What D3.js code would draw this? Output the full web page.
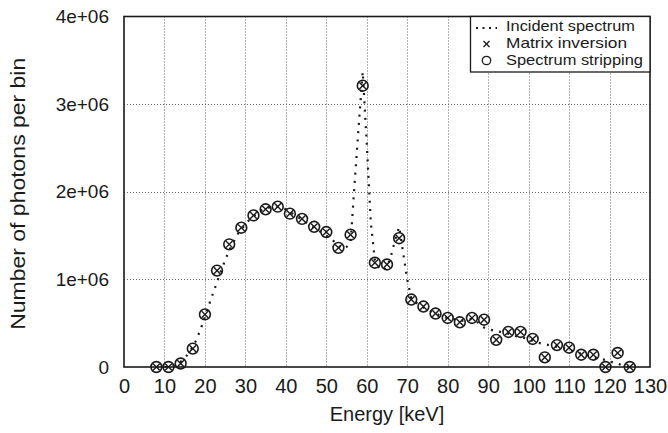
<!DOCTYPE html>
<html><head><meta charset="utf-8">
<script src="https://cdn.jsdelivr.net/npm/d3@7"></script>
<style>html,body{margin:0;padding:0;background:#fff;}svg{display:block;}</style>
</head><body>
<svg id="chart" width="668" height="433"></svg>
<script>
// Bin energies (keV) for the two unfolding methods
const binEnergy = [8,11,14,17,20,23,26,29,32,35,38,41,44,47,50,53,56,59,62,65,68,71,74,77,80,83,86,89,92,95,98,101,104,107,110,113,116,119,122,125];
const matrixInversion = [0.0,0.0,0.04e6,0.21e6,0.60e6,1.10e6,1.40e6,1.59e6,1.73e6,1.80e6,1.83e6,1.75e6,1.69e6,1.60e6,1.54e6,1.36e6,1.51e6,3.21e6,1.19e6,1.17e6,1.47e6,0.77e6,0.69e6,0.61e6,0.56e6,0.51e6,0.56e6,0.54e6,0.31e6,0.40e6,0.40e6,0.32e6,0.11e6,0.25e6,0.22e6,0.14e6,0.14e6,0.0,0.16e6,0.0];
const spectrumStripping = [0.0,0.0,0.04e6,0.21e6,0.60e6,1.10e6,1.40e6,1.59e6,1.73e6,1.80e6,1.83e6,1.75e6,1.69e6,1.60e6,1.54e6,1.36e6,1.51e6,3.21e6,1.19e6,1.17e6,1.47e6,0.77e6,0.69e6,0.61e6,0.56e6,0.51e6,0.56e6,0.54e6,0.31e6,0.40e6,0.40e6,0.32e6,0.11e6,0.25e6,0.22e6,0.14e6,0.14e6,0.0,0.16e6,0.0];

// Incident spectrum, 1 keV steps from 8 to 125 keV (values in millions)
const incidentEnergy = d3.range(8, 126);
const incidentMillions = [
  0,0,0,0,0.01,0.03,0.06,0.10,0.16,0.23,0.32,0.44,            // 8-19
  0.57,0.71,0.84,0.97,1.10,1.22,1.33,1.42,1.51,1.57,            // 20-29
  1.63,1.68,1.72,1.76,1.79,1.81,1.82,1.83,1.83,1.82,            // 30-39
  1.80,1.77,1.74,1.71,1.68,1.65,1.62,1.59,1.56,1.53,            // 40-49
  1.50,1.47,1.43,1.38,1.35,1.37,1.42,2.10,2.75,3.37,            // 50-59
  2.55,1.65,1.22,1.14,1.10,1.14,1.27,1.45,1.60,1.30,            // 60-69
  1.00,0.78,0.74,0.71,0.68,0.65,0.63,0.61,0.59,0.57,            // 70-79
  0.56,0.55,0.54,0.53,0.53,0.54,0.55,0.53,0.48,0.45,            // 80-89
  0.43,0.42,0.41,0.40,0.39,0.38,0.37,0.35,0.34,0.33,            // 90-99
  0.31,0.30,0.28,0.27,0.26,0.25,0.24,0.23,0.22,0.21,            // 100-109
  0.20,0.18,0.17,0.15,0.14,0.13,0.11,0.10,0.09,0.08,            // 110-119
  0.065,0.05,0.04,0.02,0.01,0                                   // 120-125
];

const xTicks = d3.range(0, 131, 10);
const yTicks = [0, 1e6, 2e6, 3e6, 4e6];
const yTickLabels = ["0", "1e+06", "2e+06", "3e+06", "4e+06"];
const legendLabels = ["Incident spectrum", "Matrix inversion", "Spectrum stripping"];

const svg = d3.select("#chart");
const L = 124, R = 650, T = 16.5, B = 367;
const x = d3.scaleLinear().domain([0, 130]).range([L, R]);
const y = d3.scaleLinear().domain([0, 4e6]).range([B, T]);
const font = "'Liberation Sans', Arial, Helvetica, sans-serif";
const ink = "#1a1a1a";

// grid
const grid = svg.append("g").attr("stroke", "#666").attr("stroke-width", 1).attr("stroke-dasharray", "1,2");
grid.selectAll("line.vx").data(xTicks.slice(1, -1)).join("line")
  .attr("x1", d => Math.round(x(d)) + 0.5).attr("x2", d => Math.round(x(d)) + 0.5)
  .attr("y1", T).attr("y2", B);
grid.selectAll("line.hy").data(yTicks.slice(1, -1)).join("line")
  .attr("x1", L).attr("x2", R)
  .attr("y1", d => Math.round(y(d)) + 0.5).attr("y2", d => Math.round(y(d)) + 0.5);

// axes (labels only)
const xAxis = d3.axisBottom(x).tickValues(xTicks).tickSize(0).tickPadding(12);
const gx = svg.append("g").attr("transform", `translate(0,${B})`).call(xAxis);
gx.select(".domain").remove();
gx.selectAll("text").attr("font-family", font).attr("font-size", 20).attr("fill", ink);

const yAxis = d3.axisLeft(y).tickValues(yTicks).tickFormat((d, i) => yTickLabels[i]).tickSize(0).tickPadding(15);
const gy = svg.append("g").attr("transform", `translate(${L},0)`).call(yAxis);
gy.select(".domain").remove();
gy.selectAll("text").attr("font-family", font).attr("font-size", 19).attr("fill", ink);

// axis titles
svg.append("text").attr("x", (L + R) / 2).attr("y", 421).attr("text-anchor", "middle")
  .attr("font-family", font).attr("font-size", 20).attr("fill", ink).text("Energy [keV]");
svg.append("text").attr("transform", `translate(25,${(T + B) / 2 + 2}) rotate(-90)`).attr("text-anchor", "middle")
  .attr("font-family", font).attr("font-size", 20).attr("fill", ink)
  .attr("textLength", 272).attr("lengthAdjust", "spacingAndGlyphs")
  .text("Number of photons per bin");

// incident spectrum
const incident = incidentEnergy.map((e, i) => [e, incidentMillions[i] * 1e6]);
svg.append("path").datum(incident)
  .attr("d", d3.line().x(d => x(d[0])).y(d => y(d[1])))
  .attr("fill", "none").attr("stroke", ink).attr("stroke-width", 2.2)
  .attr("stroke-dasharray", "2,6.3");

// spectrum stripping circles
svg.append("g").selectAll("circle").data(binEnergy).join("circle")
  .attr("cx", (d) => x(d)).attr("cy", (d, i) => y(spectrumStripping[i])).attr("r", 5.4)
  .attr("fill", "none").attr("stroke", ink).attr("stroke-width", 1.6);

// matrix inversion crosses
const cs = 3.3;
svg.append("g").selectAll("path").data(binEnergy).join("path")
  .attr("d", (d, i) => {
    const cx = x(d), cy = y(matrixInversion[i]);
    return `M${cx - cs},${cy - cs}L${cx + cs},${cy + cs}M${cx - cs},${cy + cs}L${cx + cs},${cy - cs}`;
  })
  .attr("stroke", ink).attr("stroke-width", 1.4).attr("fill", "none");

// frame
svg.append("rect").attr("x", L).attr("y", T).attr("width", R - L).attr("height", B - T)
  .attr("fill", "none").attr("stroke", ink).attr("stroke-width", 1.6);

// legend
const lg = svg.append("g");
lg.append("rect").attr("x", 470.5).attr("y", T).attr("width", R - 470.5).attr("height", 55.5)
  .attr("fill", "#fff").attr("stroke", ink).attr("stroke-width", 1.3);
const rowY = [26, 43, 59.5];
const rowLen = [129, 121, 137];
lg.selectAll("text").data(legendLabels).join("text")
  .attr("x", 506).attr("y", (d, i) => rowY[i]).attr("dy", "0.35em")
  .attr("font-family", font).attr("font-size", 14.5).attr("fill", ink)
  .attr("textLength", (d, i) => rowLen[i]).attr("lengthAdjust", "spacingAndGlyphs")
  .text(d => d);
lg.append("line").attr("x1", 476).attr("x2", 497).attr("y1", rowY[0] + 2).attr("y2", rowY[0] + 2)
  .attr("stroke", ink).attr("stroke-width", 2).attr("stroke-dasharray", "2,4.5");
const lx = 486.5, ly = rowY[1] + 1, ls = 3;
lg.append("path").attr("d", `M${lx - ls},${ly - ls}L${lx + ls},${ly + ls}M${lx - ls},${ly + ls}L${lx + ls},${ly - ls}`)
  .attr("stroke", ink).attr("stroke-width", 1.3);
lg.append("circle").attr("cx", lx).attr("cy", rowY[2] + 1).attr("r", 4.2)
  .attr("fill", "none").attr("stroke", ink).attr("stroke-width", 1.3);
</script>
</body></html>
